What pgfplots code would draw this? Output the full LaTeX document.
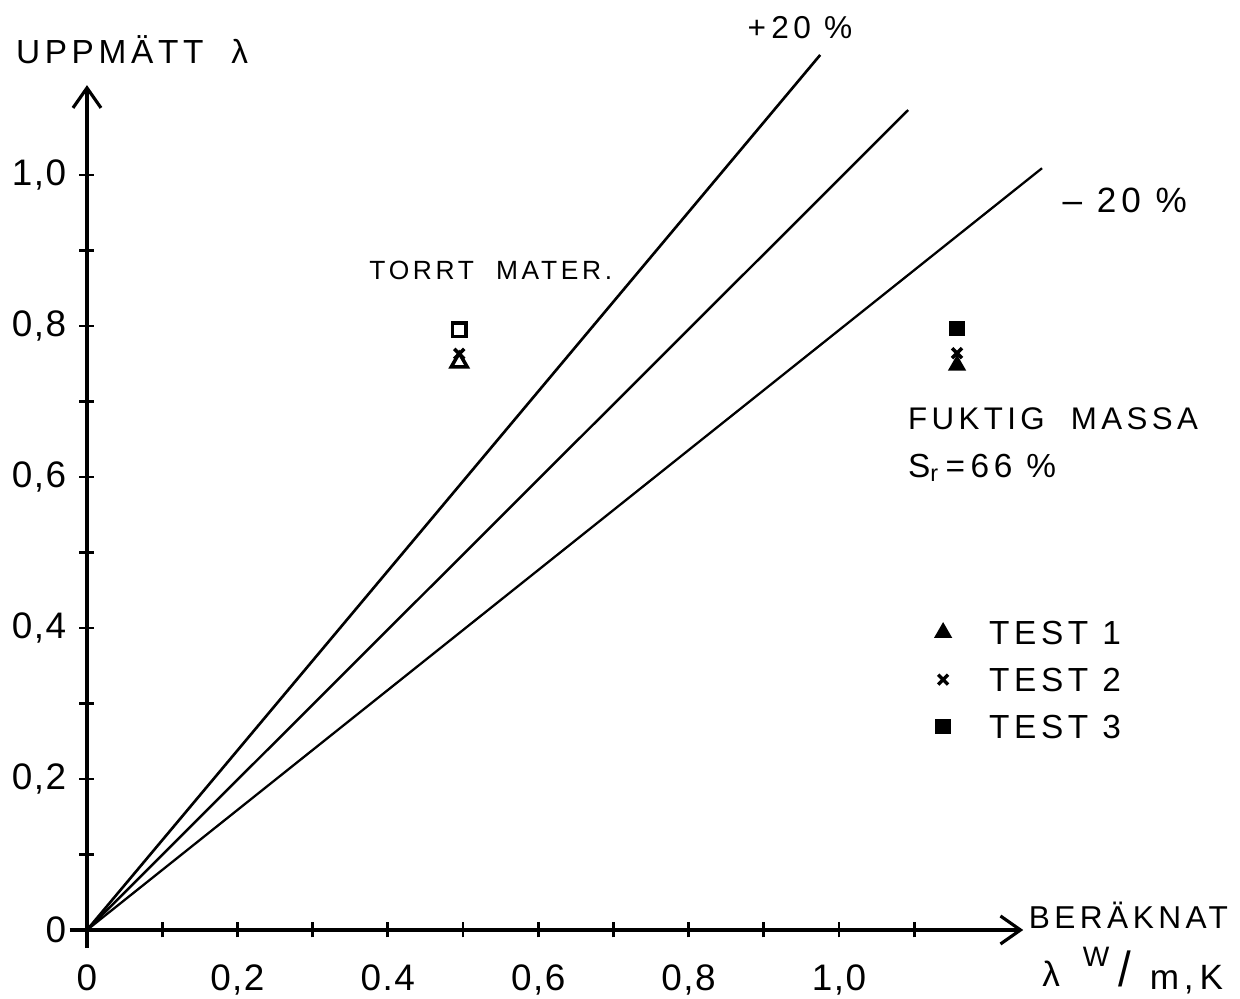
\documentclass[border=0pt]{standalone}
\usepackage{fontspec}
\setmainfont{Liberation Sans}
\newfontfamily\hand[LetterSpace=14]{Liberation Sans}
\newfontfamily\handt[LetterSpace=4]{Liberation Sans}
\usepackage{pgfplots}
\pgfplotsset{compat=1.18}
\usetikzlibrary{arrows.meta}

\begin{document}
\begin{tikzpicture}
\useasboundingbox (-0.87,-0.69) rectangle (11.53,9.30);
\begin{axis}[
  anchor=origin, at={(0,0)},
  x=7.52cm, y=7.55cm,
  axis lines=middle,
  xmin=-0.023, xmax=1.245, ymin=-0.024, ymax=1.119,
  clip=false,
  axis line style={line width=0.9pt, -{Straight Barb[length=2mm,width=2.8mm,line width=0.9pt]}},
  xtick={0,0.1,0.2,0.3,0.4,0.5,0.6,0.7,0.8,0.9,1.0,1.1},
  xticklabels={0,,0{,}2,,0.4,,0{,}6,,0{,}8,,1{,}0,},
  ytick={0,0.1,0.2,0.3,0.4,0.5,0.6,0.7,0.8,0.9,1.0},
  yticklabels={0,,0{,}2,,0{,}4,,0{,}6,,0{,}8,,1{,}0},
  tick align=center, major tick length=0.15cm,
  tick style={line width=0.8pt, black},
  hide obscured x ticks=false, hide obscured y ticks=false,
  ticklabel style={font=\handt\fontsize{10.5}{12}\selectfont},
  xticklabel style={yshift=-0.15cm},
  yticklabel style={xshift=-0.01cm},
  legend image code/.code={\draw[#1] plot coordinates {(0cm,0cm)};},
  legend style={draw=none, fill=none, at={(axis cs:1.113,0.420)}, anchor=north west,
    font=\hand\fontsize{9.5}{11}\selectfont, row sep=0.23cm,
    nodes={inner sep=0pt, text height=0.24cm, text depth=0pt},
    /tikz/every odd column/.append style={column sep=0.38cm}},
  legend cell align=left,
]
% reference lines
\addplot[forget plot, black, line width=0.75pt] coordinates {(0,0) (0.975,1.159)};
\addplot[forget plot, black, line width=0.7pt] coordinates {(0,0) (1.092,1.086)};
\addplot[forget plot, black, line width=0.65pt] coordinates {(0,0) (1.270,1.009)};
% wet material (filled)
\addplot[only marks, mark=triangle*, mark size=2.6pt, black] coordinates {(1.157,0.748)};
\addplot[only marks, mark=x, mark size=2pt, black, line width=1pt] coordinates {(1.157,0.764)};
\addplot[only marks, mark=square*, mark size=2pt, black] coordinates {(1.157,0.797)};
% dry material (open)
\addplot[forget plot, only marks, mark=triangle*, mark size=2.6pt, black, line width=1pt, mark options={fill=white}] coordinates {(0.495,0.752)};
\addplot[forget plot, only marks, mark=x, mark size=2pt, black, line width=1pt] coordinates {(0.495,0.763)};
\addplot[forget plot, only marks, mark=square*, mark size=1.9pt, black, line width=1pt, mark options={fill=white}] coordinates {(0.495,0.795)};
\legend{TEST 1, TEST 2, TEST 3}
% texts
\node[font=\hand\fontsize{9.5}{11}\selectfont] at (axis cs:0.060,1.166) {UPPMÄTT \ λ};
\node[font=\hand\fontsize{9}{11}\selectfont] at (axis cs:1.385,0.020) {BERÄKNAT};
\node[font=\hand\fontsize{10}{12}\selectfont] at (axis cs:1.282,-0.058) {λ};
\node[font=\hand\fontsize{8}{9}\selectfont] at (axis cs:1.342,-0.035) {W};
\node[font=\hand\fontsize{10}{12}\selectfont, inner sep=0pt] at (axis cs:1.380,-0.052) {\scalebox{1.3}[1.4]{/}};
\node[font=\hand\fontsize{10}{12}\selectfont] at (axis cs:1.462,-0.066) {m,\,K};
\node[font=\hand\fontsize{9}{11}\selectfont] at (axis cs:0.948,1.195) {+\,20 \%};
\node[font=\hand\fontsize{10}{12}\selectfont] at (axis cs:1.380,0.967) {\textendash\ 20 \%};
\node[font=\hand\fontsize{7.5}{9}\selectfont] at (axis cs:0.537,0.874) {TORRT \ MATER.};
\node[font=\hand\fontsize{8.9}{11}\selectfont, anchor=west, inner sep=0pt] at (axis cs:1.091,0.677) {FUKTIG \ MASSA};
\node[font=\hand\fontsize{9.5}{11}\selectfont, anchor=west, inner sep=0pt] at (axis cs:1.091,0.612) {S\textsubscript{r}\,=\,66 \%};
\end{axis}
\end{tikzpicture}
\end{document}
